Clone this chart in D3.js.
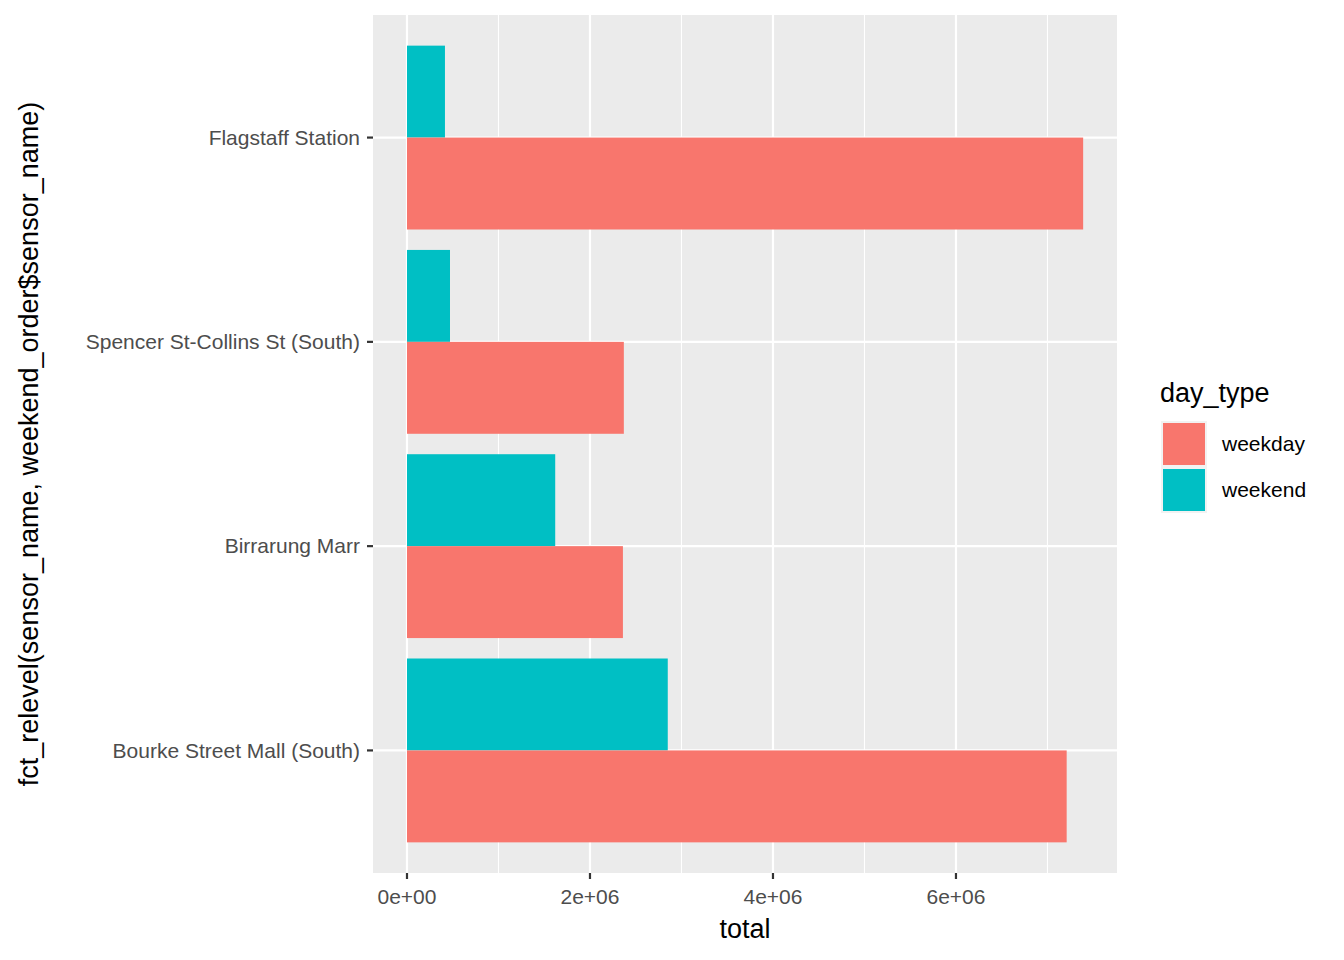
<!DOCTYPE html>
<html><head><meta charset="utf-8">
<script src="https://cdn.jsdelivr.net/npm/d3@7"></script>
<style>body{margin:0;background:#fff;font-family:"Liberation Sans",Arial,sans-serif}</style>
</head><body><svg id="c" width="1344" height="960"></svg>
<script>
const sensors = ["Flagstaff Station", "Spencer St-Collins St (South)", "Birrarung Marr", "Bourke Street Mall (South)"];
const weekday = [7.39e6, 2.37e6, 2.36e6, 7.21e6];
const weekend = [0.415e6, 0.47e6, 1.62e6, 2.85e6];
const xTicks = [0, 2e6, 4e6, 6e6];
const xTickLabels = ["0e+00", "2e+06", "4e+06", "6e+06"];
const dayTypes = ["weekday", "weekend"];
const colors = ["#F8766D", "#00BFC4"];

const svg = d3.select('#c');
const L = 373, R = 1117, T = 15, B = 873;
const x = d3.scaleLinear().domain([-0.3715e6, 7.76e6]).range([L, R]);
const y = d3.scaleLinear().domain([0.4, 4.6]).range([T, B]);
const step = y(2) - y(1), half = step * 0.45;

svg.append('rect').attr('x', L).attr('y', T).attr('width', R - L).attr('height', B - T).attr('fill', '#EBEBEB');
// minor grid
[1e6, 3e6, 5e6, 7e6].forEach(v => svg.append('line').attr('x1', x(v)).attr('x2', x(v)).attr('y1', T).attr('y2', B).attr('stroke', '#fff').attr('stroke-width', 1.1));
xTicks.forEach(v => svg.append('line').attr('x1', x(v)).attr('x2', x(v)).attr('y1', T).attr('y2', B).attr('stroke', '#fff').attr('stroke-width', 2.2));
sensors.forEach((s, i) => svg.append('line').attr('x1', L).attr('x2', R).attr('y1', y(i + 1)).attr('y2', y(i + 1)).attr('stroke', '#fff').attr('stroke-width', 2.2));

sensors.forEach((s, i) => {
  const c = y(i + 1);
  svg.append('rect').attr('x', x(0)).attr('y', c - half).attr('width', x(weekend[i]) - x(0)).attr('height', half).attr('fill', colors[1]);
  svg.append('rect').attr('x', x(0)).attr('y', c).attr('width', x(weekday[i]) - x(0)).attr('height', half).attr('fill', colors[0]);
  svg.append('line').attr('x1', L - 6).attr('x2', L).attr('y1', c).attr('y2', c).attr('stroke', '#333').attr('stroke-width', 2.2);
  svg.append('text').attr('x', L - 13).attr('y', c).attr('dy', '0.35em').attr('text-anchor', 'end').attr('font-size', 21).attr('fill', '#4D4D4D').text(s);
});
xTicks.forEach((v, i) => {
  svg.append('line').attr('x1', x(v)).attr('x2', x(v)).attr('y1', B).attr('y2', B + 6).attr('stroke', '#333').attr('stroke-width', 2.2);
  svg.append('text').attr('x', x(v)).attr('y', B + 31).attr('text-anchor', 'middle').attr('font-size', 21).attr('fill', '#4D4D4D').text(xTickLabels[i]);
});
svg.append('text').attr('x', (L + R) / 2).attr('y', 938).attr('text-anchor', 'middle').attr('font-size', 27).text('total');
svg.append('text').attr('transform', `translate(38,${(T + B) / 2}) rotate(-90)`).attr('text-anchor', 'middle').attr('font-size', 27).text('fct_relevel(sensor_name, weekend_order$sensor_name)');

svg.append('text').attr('x', 1160).attr('y', 402).attr('font-size', 27).text('day_type');
dayTypes.forEach((d, i) => {
  const yy = 421 + i * 46;
  svg.append('rect').attr('x', 1161).attr('y', yy).attr('width', 46).attr('height', 46).attr('fill', '#F2F2F2');
  svg.append('rect').attr('x', 1163).attr('y', yy + 2).attr('width', 42).attr('height', 42).attr('fill', colors[i]);
  svg.append('text').attr('x', 1222).attr('y', yy + 23).attr('dy', '0.35em').attr('font-size', 21).text(d);
});
</script></body></html>
